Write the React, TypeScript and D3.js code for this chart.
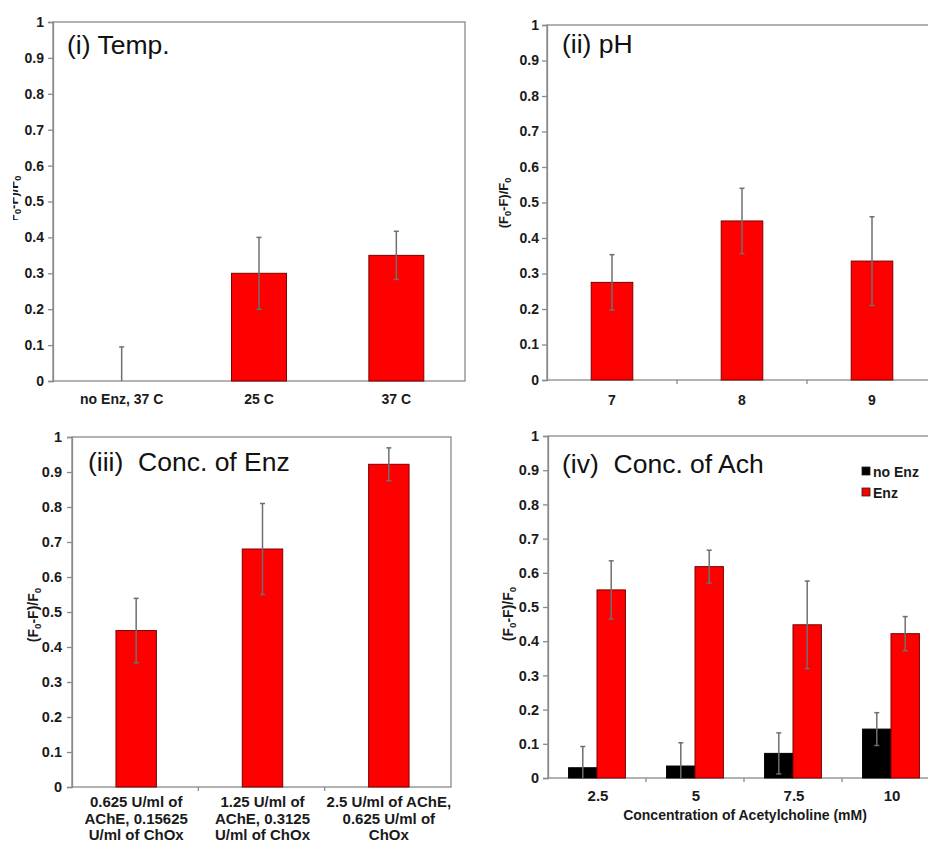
import React, { useEffect, useRef } from 'react';
import * as d3 from 'd3';

// panel (i) temperature
const tempCats = ['no Enz, 37 C', '25 C', '37 C'];
const tempVals = [0, 0.3, 0.35];
const tempErr = [0.095, 0.1, 0.067];

// panel (ii) pH
const phCats = ['7', '8', '9'];
const phVals = [0.275, 0.448, 0.335];
const phErr = [0.078, 0.092, 0.125];

// panel (iii) enzyme concentration
const enzCats = [
    ['0.625 U/ml of', 'AChE, 0.15625', 'U/ml of ChOx'],
    ['1.25 U/ml of', 'AChE, 0.3125', 'U/ml of ChOx'],
    ['2.5 U/ml of AChE,', '0.625 U/ml of', 'ChOx'],
];
const enzVals = [0.447, 0.68, 0.922];
const enzErr = [0.092, 0.13, 0.047];

// panel (iv) acetylcholine concentration
const achCats = ['2.5', '5', '7.5', '10'];
const achSeries = ['no Enz', 'Enz'];
const achNoEnz = [0.03, 0.035, 0.072, 0.143];
const achNoEnzErr = [0.062, 0.068, 0.06, 0.048];
const achEnz = [0.55, 0.618, 0.448, 0.422];
const achEnzErr = [0.085, 0.048, 0.128, 0.05];

const yTicks = [0, 0.1, 0.2, 0.3, 0.4, 0.5, 0.6, 0.7, 0.8, 0.9, 1];

const FONT = '"Liberation Sans", Arial, sans-serif';
const FRAME = '#8a8a8a';
const ERR = '#6f6f6f';
const INK = '#1a1a1a';

function App() {
    const ref = useRef<SVGSVGElement>(null);
    const width = 928;
    const height = 843;

    useEffect(() => {
        const svg = d3.select(ref.current);
        svg.selectAll('*').remove();
        svg.style('font-family', FONT);

        const defs = svg.append('defs');
        // the first panel's y title is mostly cut off in the original
        defs.append('clipPath').attr('id', 'clipLab1')
            .append('rect').attr('x', 13).attr('y', 168).attr('width', 30).attr('height', 52);

        function panel(opt) {
            const { left, right, top, bottom, cats, tickSize, labelGap, ticksX } = opt;
            const x = d3.scaleBand().domain(cats.map((_, i) => String(i))).range([left, right]);
            const y = d3.scaleLinear().domain([0, 1]).range([bottom, top]);
            const g = svg.append('g');

            // frame
            g.append('rect')
                .attr('x', left).attr('y', top)
                .attr('width', right - left).attr('height', bottom - top)
                .attr('fill', 'none').attr('stroke', FRAME).attr('stroke-width', 1.3);

            // y axis
            const ax = g.append('g')
                .attr('transform', `translate(${left},0)`)
                .call(d3.axisLeft(y).tickValues(yTicks).tickSize(5).tickPadding(labelGap)
                    .tickFormat(d => d === 0 || d === 1 ? String(d) : d3.format('.1f')(d)));
            ax.attr('font-size', null).attr('font-family', null);
            ax.select('.domain').attr('stroke', FRAME).attr('stroke-width', 1.3);
            ax.selectAll('.tick line').attr('stroke', FRAME).attr('stroke-width', 1.3);
            ax.selectAll('.tick text')
                .attr('fill', INK)
                .style('font-family', FONT)
                .style('font-size', `${tickSize}px`)
                .style('font-weight', 'bold');

            // x boundary ticks
            if (ticksX) {
                cats.forEach((_, i) => {
                    if (i === 0) return;
                    const xx = x(String(i));
                    g.append('line')
                        .attr('x1', xx).attr('x2', xx)
                        .attr('y1', bottom).attr('y2', bottom + 4)
                        .attr('stroke', FRAME).attr('stroke-width', 1.3);
                });
            }
            return { x, y, g };
        }

        function bar(g, y, cx, w, v, e, fill, stroke) {
            g.append('rect')
                .attr('x', cx - w / 2).attr('y', y(v))
                .attr('width', w).attr('height', y(0) - y(v))
                .attr('fill', fill).attr('stroke', stroke).attr('stroke-width', 1);
            const lo = Math.max(0, v - e);
            const hi = v + e;
            g.append('line')
                .attr('x1', cx).attr('x2', cx).attr('y1', y(lo)).attr('y2', y(hi))
                .attr('stroke', ERR).attr('stroke-width', 1.5);
            g.append('line')
                .attr('x1', cx - 2.5).attr('x2', cx + 2.5).attr('y1', y(hi)).attr('y2', y(hi))
                .attr('stroke', ERR).attr('stroke-width', 1.5);
            if (lo > 0) {
                g.append('line')
                    .attr('x1', cx - 2.5).attr('x2', cx + 2.5).attr('y1', y(lo)).attr('y2', y(lo))
                    .attr('stroke', ERR).attr('stroke-width', 1.5);
            }
        }

        function yLabel(x, cy, size, clip?) {
            const holder = svg.append('g');
            if (clip) holder.attr('clip-path', `url(#${clip})`);
            const t = holder.append('text')
                .attr('transform', `translate(${x},${cy}) rotate(-90)`)
                .attr('text-anchor', 'middle')
                .attr('fill', INK)
                .style('font-size', `${size}px`)
                .style('font-weight', 'bold');
            t.append('tspan').text('(F');
            t.append('tspan').attr('dy', 3).style('font-size', `${size * 0.7}px`).text('0');
            t.append('tspan').attr('dy', -3).text('-F)/F');
            t.append('tspan').attr('dy', 3).style('font-size', `${size * 0.7}px`).text('0');
        }

        function title(x, y, s, size) {
            svg.append('text')
                .attr('x', x).attr('y', y)
                .attr('fill', '#111')
                .style('font-size', `${size}px`)
                .style('white-space', 'pre')
                .text(s);
        }

        // (i) Temp.
        {
            const { x, y, g } = panel({ left: 53, right: 465, top: 22, bottom: 381, cats: tempCats, tickSize: 14, labelGap: 4, ticksX: false });
            const bw = x.bandwidth() * 0.4;
            tempCats.forEach((c, i) => {
                const cx = x(String(i)) + x.bandwidth() / 2;
                bar(g, y, cx, bw, tempVals[i], tempErr[i], '#ff0000', '#7a0000');
                g.append('text')
                    .attr('x', cx).attr('y', 404)
                    .attr('text-anchor', 'middle')
                    .attr('fill', INK)
                    .style('font-size', '14px').style('font-weight', 'bold')
                    .text(c);
            });
            yLabel(18, 201, 13, 'clipLab1');
            title(67, 54, '(i) Temp.', 26.5);
        }

        // (ii) pH
        {
            const { x, y, g } = panel({ left: 547, right: 937, top: 25, bottom: 380, cats: phCats, tickSize: 14, labelGap: 3, ticksX: true });
            const bw = x.bandwidth() * 0.32;
            phCats.forEach((c, i) => {
                const cx = x(String(i)) + x.bandwidth() / 2;
                bar(g, y, cx, bw, phVals[i], phErr[i], '#ff0000', '#7a0000');
                g.append('text')
                    .attr('x', cx).attr('y', 405)
                    .attr('text-anchor', 'middle')
                    .attr('fill', INK)
                    .style('font-size', '14px').style('font-weight', 'bold')
                    .text(c);
            });
            yLabel(508, 203, 13);
            title(562, 53, '(ii) pH', 26.5);
        }

        // (iii) Conc. of Enz
        {
            const { x, y, g } = panel({ left: 72, right: 451, top: 437, bottom: 787, cats: enzCats, tickSize: 14.5, labelGap: 5, ticksX: true });
            const bw = x.bandwidth() * 0.32;
            enzCats.forEach((lines, i) => {
                const cx = x(String(i)) + x.bandwidth() / 2 + 1;
                bar(g, y, cx, bw, enzVals[i], enzErr[i], '#ff0000', '#7a0000');
                lines.forEach((s, k) => {
                    g.append('text')
                        .attr('x', cx).attr('y', 807 + k * 16.5)
                        .attr('text-anchor', 'middle')
                        .attr('fill', INK)
                        .style('font-size', '15px').style('font-weight', 'bold')
                        .text(s);
                });
            });
            yLabel(38, 615, 14);
            title(88, 471, '(iii)  Conc. of Enz', 26.5);
        }

        // (iv) Conc. of Ach
        {
            const { x, y, g } = panel({ left: 548, right: 940, top: 436, bottom: 778, cats: achCats, tickSize: 14.5, labelGap: 4, ticksX: true });
            const bw = x.bandwidth() * 0.29;
            const colors = ['#000000', '#ff0000'];
            const strokes = ['#000000', '#7a0000'];
            achCats.forEach((c, i) => {
                const cx = x(String(i)) + x.bandwidth() / 2;
                bar(g, y, cx - bw / 2, bw, achNoEnz[i], achNoEnzErr[i], colors[0], strokes[0]);
                bar(g, y, cx + bw / 2, bw, achEnz[i], achEnzErr[i], colors[1], strokes[1]);
                g.append('text')
                    .attr('x', cx + 1).attr('y', 801)
                    .attr('text-anchor', 'middle')
                    .attr('fill', INK)
                    .style('font-size', '15px').style('font-weight', 'bold')
                    .text(c);
            });
            svg.append('text')
                .attr('x', 745).attr('y', 820)
                .attr('text-anchor', 'middle')
                .attr('fill', INK)
                .style('font-size', '14px').style('font-weight', 'bold')
                .text('Concentration of Acetylcholine (mM)');
            yLabel(513, 614, 14);
            title(562, 473, '(iv)  Conc. of Ach', 26.5);

            // legend
            achSeries.forEach((s, k) => {
                const ly = 467 + k * 21;
                svg.append('rect')
                    .attr('x', 862).attr('y', ly)
                    .attr('width', 8).attr('height', 8)
                    .attr('fill', colors[k]).attr('stroke', '#222').attr('stroke-width', 0.8);
                svg.append('text')
                    .attr('x', 873).attr('y', ly + 10)
                    .attr('fill', INK)
                    .style('font-size', '14px').style('font-weight', 'bold')
                    .text(s);
            });
        }
    }, []);

    return (
        <svg ref={ref} width={width} height={height}
            style={{ position: 'absolute', left: 0, top: 0, background: '#fff' }}></svg>
    );
}

export default App;
